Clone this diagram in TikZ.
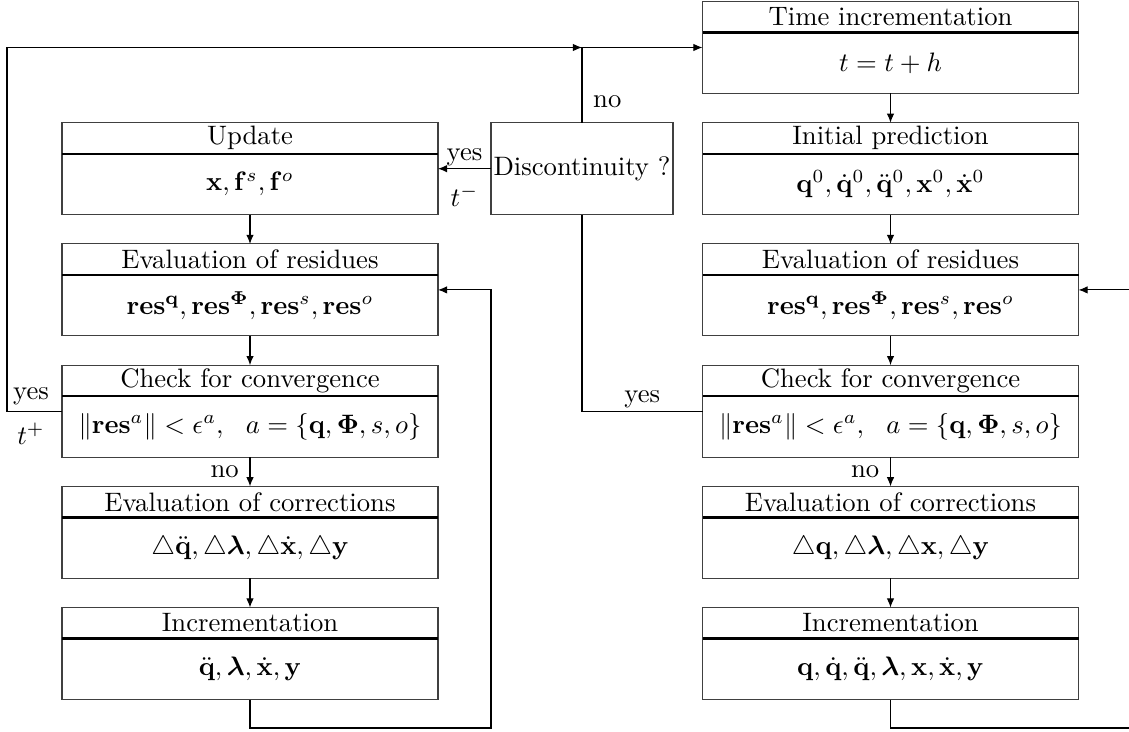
\documentclass[tikz,border=0pt]{standalone}
\usepackage{amsmath,bm}
\usetikzlibrary{calc,arrows.meta}

% one stage of the scheme: framed box with a title strip and a body
\newcommand{\stage}[4]{%
  \node[frame] (#1) at #2 {};
  \node[ttl] (#1-t) at ($(#1.north)+(0,15.5)$) {#3};
  \draw[splitline] ($(#1.north west)+(0,31)$) -- ($(#1.north east)+(0,31)$);
  \node[bdy] (#1-b) at ($(#1.south)+(0,-30.5)$) {#4};
}

\begin{document}
\begin{tikzpicture}[x=0.375pt,y=-0.375pt,
  frame/.style={draw=black!75, line width=0.4pt, minimum width=141pt,
                minimum height=34.5pt, inner sep=0pt, outer sep=0pt},
  ttl/.style={inner sep=0pt},
  bdy/.style={inner sep=0pt},
  splitline/.style={line width=0.9pt},
  flow/.style={-{Latex[length=3.4pt,width=2.8pt]}, line width=0.4pt},
  link/.style={line width=0.4pt},
  lbl/.style={inner sep=1pt}]
\useasboundingbox (0,0) rectangle (1129,731);

% right column: integration step
\stage{time}{(890.5,47.5)}{Time incrementation}{$t = t + h$}
\stage{init}{(890.5,168.7)}{Initial prediction}
  {$\mathbf{q}^0, \dot{\mathbf{q}}^0, \ddot{\mathbf{q}}^0, \mathbf{x}^0, \dot{\mathbf{x}}^0$}
\stage{resR}{(890.5,289.9)}{Evaluation of residues}
  {$\mathbf{res}^{\mathbf{q}}, \mathbf{res}^{\bm{\Phi}}, \mathbf{res}^{s}, \mathbf{res}^{o}$}
\stage{chkR}{(890.5,411.1)}{Check for convergence}
  {$\|\mathbf{res}^a\| < \epsilon^a,\ \ a = \{\mathbf{q}, \bm{\Phi}, s, o\}$}
\stage{corR}{(890.5,532.3)}{Evaluation of corrections}
  {$\triangle\mathbf{q}, \triangle\bm{\lambda}, \triangle\mathbf{x}, \triangle\mathbf{y}$}
\stage{incR}{(890.5,653.5)}{Incrementation}
  {$\mathbf{q}, \dot{\mathbf{q}}, \ddot{\mathbf{q}}, \bm{\lambda}, \mathbf{x}, \dot{\mathbf{x}}, \mathbf{y}$}

% left column: impact / discontinuity treatment
\stage{upd}{(250,168.7)}{Update}{$\mathbf{x}, \mathbf{f}^s, \mathbf{f}^o$}
\stage{resL}{(250,289.9)}{Evaluation of residues}
  {$\mathbf{res}^{\mathbf{q}}, \mathbf{res}^{\bm{\Phi}}, \mathbf{res}^{s}, \mathbf{res}^{o}$}
\stage{chkL}{(250,411.1)}{Check for convergence}
  {$\|\mathbf{res}^a\| < \epsilon^a,\ \ a = \{\mathbf{q}, \bm{\Phi}, s, o\}$}
\stage{corL}{(250,532.3)}{Evaluation of corrections}
  {$\triangle\ddot{\mathbf{q}}, \triangle\bm{\lambda}, \triangle\dot{\mathbf{x}}, \triangle\mathbf{y}$}
\stage{incL}{(250,653.5)}{Incrementation}
  {$\ddot{\mathbf{q}}, \bm{\lambda}, \dot{\mathbf{x}}, \mathbf{y}$}

% decision box
\node[frame, minimum width=68.25pt] (disc) at (582,168.7) {Discontinuity ?};

% vertical chains
\draw[flow] (time) -- (init);
\draw[flow] (init) -- (resR);
\draw[flow] (resR) -- (chkR);
\draw[flow] (chkR) -- node[lbl, left=3pt] {no} (corR);
\draw[flow] (corR) -- (incR);
\draw[flow] (upd) -- (resL);
\draw[flow] (resL) -- (chkL);
\draw[flow] (chkL) -- node[lbl, left=3pt] {no} (corL);
\draw[flow] (corL) -- (incL);

% discontinuity branches
\draw[flow] (disc.west) -- node[lbl, above] {yes} node[lbl, below=5pt] {$t^-$} (upd.east);
\coordinate (J) at (disc.north |- time.west);
\draw[link] (disc.north) -- node[lbl, right=3pt, pos=0.28] {no} (J);
\draw[flow] (J) -- (time.west);
\draw[link] (chkR.west) -- node[lbl, above, pos=0.5] {yes} (chkR.west -| disc.south) -- (disc.south);

% converged impact loop back to the time step
\coordinate (L) at (7,0);
\draw[flow] (chkL.west) -- (chkL.west -| L) -- (L |- J) -- (J);
\node[lbl] (yesL) at (31,396) {yes};
\node[lbl] (tplus) at (31,434) {$t^+$};

% Newton iteration loops
\coordinate (lowL) at (491,728);
\draw[flow] (incL.south) |- (lowL) |- (resL.east);
\coordinate (lowR) at (1129,728);
\draw[link] (incR.south) |- (lowR);
\coordinate (inR) at (1129,0);
\draw[flow] (inR |- resR.east) -- (resR.east);
\end{tikzpicture}
\end{document}
